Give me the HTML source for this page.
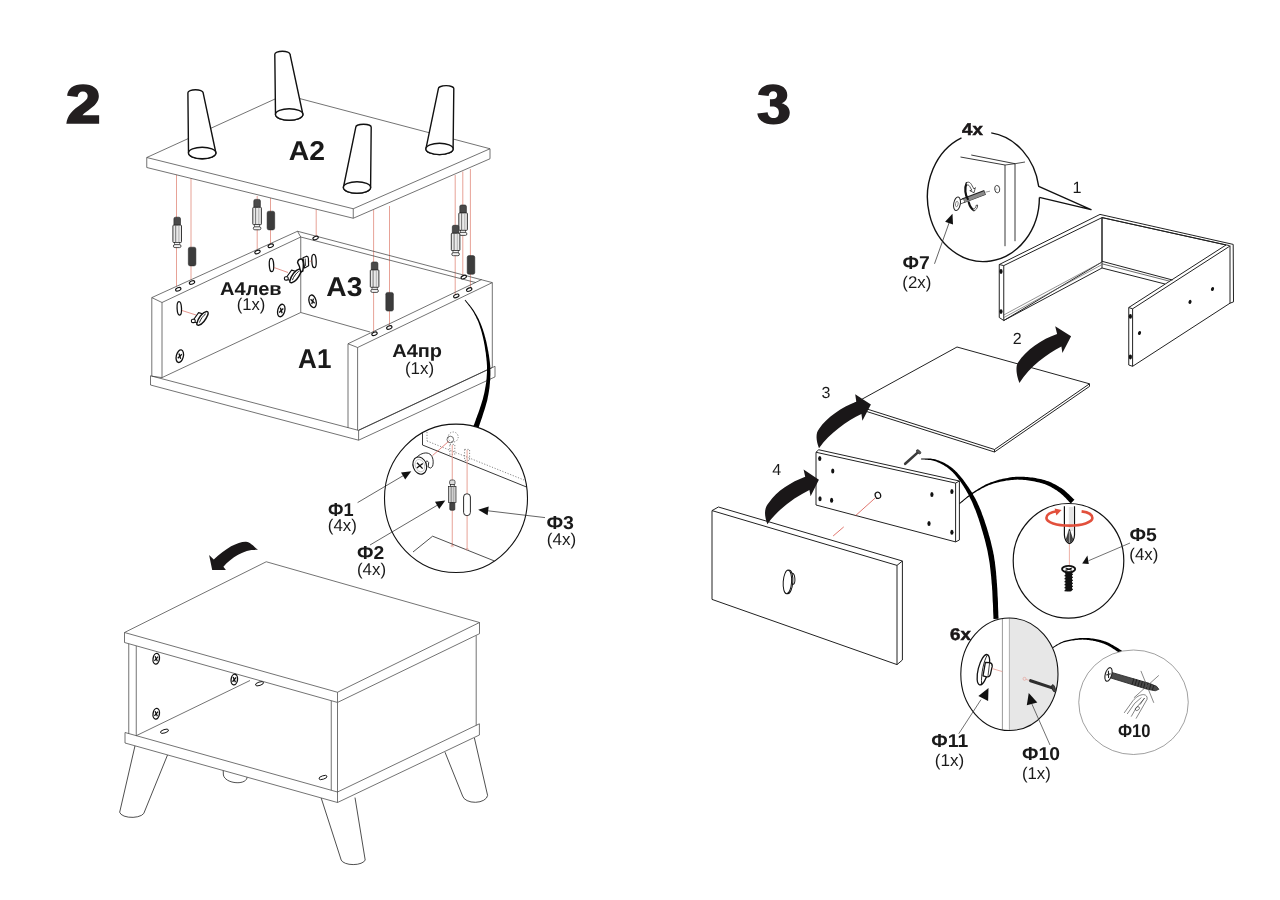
<!DOCTYPE html>
<html><head><meta charset="utf-8"><title>Assembly steps 2-3</title>
<style>
html,body{margin:0;padding:0;background:#fff;}
body{width:1280px;height:900px;overflow:hidden;font-family:"Liberation Sans",sans-serif;}
svg{display:block;font-family:"Liberation Sans",sans-serif;will-change:transform;}
text{text-rendering:geometricPrecision;}
</style></head>
<body>
<svg width="1280" height="900" viewBox="0 0 1280 900">
<rect width="1280" height="900" fill="#fff"/>
<g transform="translate(50,70) scale(0.07776)" fill="#231f20">
<path d="M210 692 L632 692 L632 583 L418 583 C440 555 480 530 530 490 C590 445 628 400 628 335 C628 240 550 183 425 183 C300 183 228 240 220 332 L355 348 C358 300 385 275 422 275 C460 275 485 300 485 335 C485 375 455 400 400 440 C290 515 222 580 210 692 Z"/>
</g>
<g transform="translate(740,70) scale(0.07776)" fill="#231f20">
<path d="M232 318 C245 230 320 183 425 183 C535 183 608 235 608 320 C608 375 580 410 535 428 C600 445 640 490 640 550 C640 645 555 700 430 700 C310 700 235 650 222 560 L355 543 C360 590 390 618 432 618 C475 618 500 590 500 545 C500 495 465 470 410 470 L385 470 L385 375 L410 375 C455 375 478 355 478 320 C478 290 458 272 428 272 C395 272 372 295 368 335 Z"/>
</g>
<line x1="176.5" y1="174" x2="176.5" y2="289" stroke="#e4978b" stroke-width="0.9" />
<line x1="191" y1="178" x2="191" y2="282" stroke="#e4978b" stroke-width="0.9" />
<line x1="257.2" y1="196" x2="257.2" y2="252" stroke="#e4978b" stroke-width="0.9" />
<line x1="270.5" y1="198" x2="270.5" y2="246" stroke="#e4978b" stroke-width="0.9" />
<line x1="316.2" y1="209" x2="316.2" y2="238" stroke="#e4978b" stroke-width="0.9" />
<line x1="373.6" y1="210" x2="373.6" y2="333.5" stroke="#e4978b" stroke-width="0.9" />
<line x1="389.5" y1="206" x2="389.5" y2="327.5" stroke="#e4978b" stroke-width="0.9" />
<line x1="455.2" y1="175" x2="455.2" y2="295.5" stroke="#e4978b" stroke-width="0.9" />
<line x1="462.8" y1="171.5" x2="462.8" y2="277" stroke="#e4978b" stroke-width="0.9" />
<line x1="470.4" y1="169" x2="470.4" y2="289" stroke="#e4978b" stroke-width="0.9" />
<polygon points="146.75,157.5 284.7,94.6 490,148.75 490,158.75 353.25,218.25 146.75,167.5" fill="#fff" stroke="#444" stroke-width="0.75" stroke-linejoin="round" />
<polyline points="146.75,157.5 353.25,208.75 490,148.75" fill="none" stroke="#444" stroke-width="0.75" stroke-linejoin="round" />
<line x1="353.25" y1="208.75" x2="353.25" y2="218.25" stroke="#444" stroke-width="0.75" />
<path d="M275.5,114.5 L274.79999999999995,54.2 A7.6,3 0 0 1 290.0,54.2 L302.9,114.5 A13.7,5.7 0 0 1 275.5,114.5 Z" fill="#fff" stroke="#111" stroke-width="1.4" stroke-linejoin="round"/>
<ellipse cx="289.2" cy="114.5" rx="13.7" ry="5.7" fill="#fff" stroke="#111" stroke-width="1.4" />
<path d="M188.5,153 L187.9,92.7 A7.6,3 0 0 1 203.1,92.7 L215.89999999999998,153 A13.7,5.7 0 0 1 188.5,153 Z" fill="#fff" stroke="#111" stroke-width="1.4" stroke-linejoin="round"/>
<ellipse cx="202.2" cy="153" rx="13.7" ry="5.7" fill="#fff" stroke="#111" stroke-width="1.4" />
<path d="M425.9,148.9 L438.40000000000003,88.6 A7.7,3 0 0 1 453.8,88.6 L453.1,148.9 A13.6,5.7 0 0 1 425.9,148.9 Z" fill="#fff" stroke="#111" stroke-width="1.4" stroke-linejoin="round"/>
<ellipse cx="439.5" cy="148.9" rx="13.6" ry="5.7" fill="#fff" stroke="#111" stroke-width="1.4" />
<path d="M343.4,187.5 L355.8,127.2 A7.7,3 0 0 1 371.2,127.2 L370.6,187.5 A13.6,5.7 0 0 1 343.4,187.5 Z" fill="#fff" stroke="#111" stroke-width="1.4" stroke-linejoin="round"/>
<ellipse cx="357" cy="187.5" rx="13.6" ry="5.7" fill="#fff" stroke="#111" stroke-width="1.4" />
<polygon points="151.8,297.6 297.5,231.25 300.75,237 162,302.5" fill="#fff" stroke="#444" stroke-width="0.75" stroke-linejoin="round" />
<polyline points="151.8,297.6 151.8,376.2 162,377.6 162,302.5" fill="none" stroke="#444" stroke-width="0.75" stroke-linejoin="round" />
<polyline points="162,377.6 300.75,312.5 300.75,237" fill="none" stroke="#444" stroke-width="0.75" stroke-linejoin="round" />
<polyline points="297.5,231.25 492.3,282.6" fill="none" stroke="#444" stroke-width="0.75" stroke-linejoin="round" />
<polyline points="300.75,237 475.9,282.6" fill="none" stroke="#444" stroke-width="0.75" stroke-linejoin="round" />
<polyline points="300.75,312.5 370,332" fill="none" stroke="#444" stroke-width="0.75" stroke-linejoin="round" />
<polyline points="348,343.75 481.7,279.5" fill="none" stroke="#444" stroke-width="0.75" stroke-linejoin="round" />
<polyline points="357.6,347.5 492.3,282.6 492.3,367.3" fill="none" stroke="#444" stroke-width="0.75" stroke-linejoin="round" />
<polyline points="348,343.75 357.6,347.5 357.6,430.2" fill="none" stroke="#444" stroke-width="0.75" stroke-linejoin="round" />
<line x1="348" y1="343.75" x2="348" y2="428" stroke="#444" stroke-width="0.75" />
<polyline points="150.5,375.75 150.5,385 358.6,440.2 495,376.9 495,366.3 358.6,430.4 150.5,375.75" fill="none" stroke="#444" stroke-width="0.75" stroke-linejoin="round" />
<line x1="358.6" y1="430.4" x2="358.6" y2="440.2" stroke="#444" stroke-width="0.75" />
<line x1="358.6" y1="430.2" x2="492" y2="367.6" stroke="#333" stroke-width="0.8" />
<ellipse cx="178.25" cy="289.25" rx="2.8" ry="1.6" fill="#fff" stroke="#111" stroke-width="1.1" transform="rotate(-22 178.25 289.25)" />
<ellipse cx="192" cy="282.5" rx="2.8" ry="1.6" fill="#fff" stroke="#111" stroke-width="1.1" transform="rotate(-22 192 282.5)" />
<ellipse cx="257.5" cy="252" rx="2.8" ry="1.6" fill="#fff" stroke="#111" stroke-width="1.1" transform="rotate(-22 257.5 252)" />
<ellipse cx="270.75" cy="245.75" rx="2.8" ry="1.6" fill="#fff" stroke="#111" stroke-width="1.1" transform="rotate(-22 270.75 245.75)" />
<ellipse cx="315.6" cy="238" rx="2.8" ry="1.6" fill="#fff" stroke="#111" stroke-width="1.1" transform="rotate(-22 315.6 238)" />
<ellipse cx="374.5" cy="333.75" rx="2.8" ry="1.6" fill="#fff" stroke="#111" stroke-width="1.1" transform="rotate(-22 374.5 333.75)" />
<ellipse cx="389.3" cy="327.5" rx="2.8" ry="1.6" fill="#fff" stroke="#111" stroke-width="1.1" transform="rotate(-22 389.3 327.5)" />
<ellipse cx="456.3" cy="295.9" rx="2.8" ry="1.6" fill="#fff" stroke="#111" stroke-width="1.1" transform="rotate(-22 456.3 295.9)" />
<ellipse cx="469.2" cy="289.6" rx="2.8" ry="1.6" fill="#fff" stroke="#111" stroke-width="1.1" transform="rotate(-22 469.2 289.6)" />
<ellipse cx="463.75" cy="277.1" rx="2.8" ry="1.6" fill="#fff" stroke="#111" stroke-width="1.1" transform="rotate(-22 463.75 277.1)" />
<ellipse cx="271.5" cy="265" rx="2.2" ry="6.7" fill="#fff" stroke="#111" stroke-width="1.3" transform="rotate(-3 271.5 265)" />
<ellipse cx="179.3" cy="308.4" rx="2.2" ry="6.7" fill="#fff" stroke="#111" stroke-width="1.3" transform="rotate(-3 179.3 308.4)" />
<ellipse cx="314" cy="261" rx="2.2" ry="6.7" fill="#fff" stroke="#111" stroke-width="1.3" transform="rotate(-3 314 261)" />
<ellipse cx="281.25" cy="310.5" rx="3.5" ry="6.4" fill="#fff" stroke="#111" stroke-width="1.3" transform="rotate(14 281.25 310.5)" />
<g transform="rotate(14 281.25 310.5)" stroke="#111" stroke-width="1.3"><line x1="279.75" y1="308.1" x2="282.75" y2="312.9"/><line x1="282.75" y1="308.1" x2="279.75" y2="312.9"/></g>
<ellipse cx="312.6" cy="301.3" rx="3.5" ry="6.4" fill="#fff" stroke="#111" stroke-width="1.3" transform="rotate(-14 312.6 301.3)" />
<g transform="rotate(-14 312.6 301.3)" stroke="#111" stroke-width="1.3"><line x1="311.1" y1="298.90000000000003" x2="314.1" y2="303.7"/><line x1="314.1" y1="298.90000000000003" x2="311.1" y2="303.7"/></g>
<ellipse cx="179.8" cy="356.2" rx="3.5" ry="6.4" fill="#fff" stroke="#111" stroke-width="1.3" transform="rotate(14 179.8 356.2)" />
<g transform="rotate(14 179.8 356.2)" stroke="#111" stroke-width="1.3"><line x1="178.3" y1="353.8" x2="181.3" y2="358.59999999999997"/><line x1="181.3" y1="353.8" x2="178.3" y2="358.59999999999997"/></g>
<rect x="173.89999999999998" y="217.2" width="6.6" height="8.6" rx="1.6" fill="#4a4a4a" stroke="#222" stroke-width="0.6"/>
<rect x="172.89999999999998" y="225.1" width="8.6" height="17.4" rx="0.8" fill="#e9e9e9" stroke="#222" stroke-width="0.9"/>
<line x1="175.7" y1="225.39999999999998" x2="175.7" y2="242.2" stroke="#444" stroke-width="0.7" />
<line x1="178.89999999999998" y1="225.39999999999998" x2="178.89999999999998" y2="242.2" stroke="#999" stroke-width="0.7" />
<rect x="174.6" y="242.5" width="5.2" height="3" fill="#f4f4f4" stroke="#222" stroke-width="0.6"/>
<rect x="173.39999999999998" y="244.6" width="7.6" height="3" rx="1.5" fill="#f4f4f4" stroke="#222" stroke-width="0.8"/>
<rect x="188.29999999999998" y="247.2" width="7.6" height="18.7" rx="1.8" fill="#3c3c3c" stroke="#222" stroke-width="0.5"/>
<rect x="253.8" y="199.4" width="6.6" height="8.6" rx="1.6" fill="#4a4a4a" stroke="#222" stroke-width="0.6"/>
<rect x="252.8" y="207.3" width="8.6" height="17.4" rx="0.8" fill="#e9e9e9" stroke="#222" stroke-width="0.9"/>
<line x1="255.60000000000002" y1="207.6" x2="255.60000000000002" y2="224.4" stroke="#444" stroke-width="0.7" />
<line x1="258.8" y1="207.6" x2="258.8" y2="224.4" stroke="#999" stroke-width="0.7" />
<rect x="254.50000000000003" y="224.70000000000002" width="5.2" height="3" fill="#f4f4f4" stroke="#222" stroke-width="0.6"/>
<rect x="253.3" y="226.8" width="7.6" height="3" rx="1.5" fill="#f4f4f4" stroke="#222" stroke-width="0.8"/>
<rect x="267.09999999999997" y="211.2" width="7.6" height="18.7" rx="1.8" fill="#3c3c3c" stroke="#222" stroke-width="0.5"/>
<rect x="371.3" y="262" width="6.6" height="8.6" rx="1.6" fill="#4a4a4a" stroke="#222" stroke-width="0.6"/>
<rect x="370.3" y="269.9" width="8.6" height="17.4" rx="0.8" fill="#e9e9e9" stroke="#222" stroke-width="0.9"/>
<line x1="373.1" y1="270.2" x2="373.1" y2="287" stroke="#444" stroke-width="0.7" />
<line x1="376.3" y1="270.2" x2="376.3" y2="287" stroke="#999" stroke-width="0.7" />
<rect x="372.0" y="287.3" width="5.2" height="3" fill="#f4f4f4" stroke="#222" stroke-width="0.6"/>
<rect x="370.8" y="289.4" width="7.6" height="3" rx="1.5" fill="#f4f4f4" stroke="#222" stroke-width="0.8"/>
<rect x="385.8" y="292.4" width="7.6" height="18.7" rx="1.8" fill="#3c3c3c" stroke="#222" stroke-width="0.5"/>
<rect x="459.8" y="205" width="6.6" height="8.6" rx="1.6" fill="#4a4a4a" stroke="#222" stroke-width="0.6"/>
<rect x="458.8" y="212.9" width="8.6" height="17.4" rx="0.8" fill="#e9e9e9" stroke="#222" stroke-width="0.9"/>
<line x1="461.6" y1="213.2" x2="461.6" y2="230" stroke="#444" stroke-width="0.7" />
<line x1="464.8" y1="213.2" x2="464.8" y2="230" stroke="#999" stroke-width="0.7" />
<rect x="460.5" y="230.3" width="5.2" height="3" fill="#f4f4f4" stroke="#222" stroke-width="0.6"/>
<rect x="459.3" y="232.4" width="7.6" height="3" rx="1.5" fill="#f4f4f4" stroke="#222" stroke-width="0.8"/>
<rect x="452.3" y="225.3" width="6.6" height="8.6" rx="1.6" fill="#4a4a4a" stroke="#222" stroke-width="0.6"/>
<rect x="451.3" y="233.20000000000002" width="8.6" height="17.4" rx="0.8" fill="#e9e9e9" stroke="#222" stroke-width="0.9"/>
<line x1="454.1" y1="233.5" x2="454.1" y2="250.3" stroke="#444" stroke-width="0.7" />
<line x1="457.3" y1="233.5" x2="457.3" y2="250.3" stroke="#999" stroke-width="0.7" />
<rect x="453.0" y="250.60000000000002" width="5.2" height="3" fill="#f4f4f4" stroke="#222" stroke-width="0.6"/>
<rect x="451.8" y="252.70000000000002" width="7.6" height="3" rx="1.5" fill="#f4f4f4" stroke="#222" stroke-width="0.8"/>
<rect x="467.2" y="255.6" width="7.6" height="18.7" rx="1.8" fill="#3c3c3c" stroke="#222" stroke-width="0.5"/>
<line x1="182" y1="310.5" x2="196" y2="315" stroke="#dd7a6e" stroke-width="0.8" />
<g transform="translate(0,0)" stroke="#111" stroke-width="1.1" fill="#fff" stroke-linejoin="round"><path d="M192.4,321.2 L198.6,312.6 L203.2,314 L197.4,323 Z"/><rect x="191.4" y="319.2" width="3.8" height="3.4" rx="1.4"/><path d="M196.8,323.6 C198,318 202.4,312.4 206.6,311.4 C208.6,311.4 208.4,313.6 207.6,315.4 C205.6,320 202.4,324 199,325.2 C197.4,325.4 196.6,324.8 196.8,323.6 Z" stroke-width="1.4"/><path d="M199.4,322.6 C200.6,319 203.4,315.4 205.8,313.8" fill="none" stroke-width="0.9"/></g>
<line x1="274" y1="267.5" x2="288" y2="272.5" stroke="#dd7a6e" stroke-width="0.8" />
<g transform="translate(93,-42.5)" stroke="#111" stroke-width="1.1" fill="#fff" stroke-linejoin="round"><path d="M192.4,321.2 L198.6,312.6 L203.2,314 L197.4,323 Z"/><rect x="191.4" y="319.2" width="3.8" height="3.4" rx="1.4"/><path d="M196.8,323.6 C198,318 202.4,312.4 206.6,311.4 C208.6,311.4 208.4,313.6 207.6,315.4 C205.6,320 202.4,324 199,325.2 C197.4,325.4 196.6,324.8 196.8,323.6 Z" stroke-width="1.4"/><path d="M199.4,322.6 C200.6,319 203.4,315.4 205.8,313.8" fill="none" stroke-width="0.9"/></g>
<g stroke="#111" stroke-width="1.2" fill="#fff" stroke-linejoin="round"><path d="M297.6,262.6 C297.8,260 299.8,258.6 301.8,259 C303.6,260 303.8,266 302.8,271 L300.6,272 C300.2,268 299,264.6 297.6,262.6 Z" stroke-width="1.5"/><path d="M303,257.8 L306.6,256.2 C307.8,256.4 308.4,257.4 308.4,258.6 L308.6,265.8 L304.6,268 Z"/><path d="M305.2,258.6 L305.6,266" fill="none" stroke-width="0.8"/></g>
<line x1="309.5" y1="261.3" x2="311.8" y2="261" stroke="#dd7a6e" stroke-width="0.7" />
<text x="307.0" y="160" font-size="27.2" font-weight="bold" text-anchor="middle" fill="#1a1a1a"  textLength="36.31" lengthAdjust="spacingAndGlyphs">A2</text>
<text x="344.375" y="295.5" font-size="27.2" font-weight="bold" text-anchor="middle" fill="#1a1a1a"  textLength="36.06" lengthAdjust="spacingAndGlyphs">A3</text>
<text x="314.75" y="367.75" font-size="27.2" font-weight="bold" text-anchor="middle" fill="#1a1a1a"  textLength="33.31" lengthAdjust="spacingAndGlyphs">A1</text>
<text x="250.89999999999998" y="294.8" font-size="18.4" font-weight="bold" text-anchor="middle" fill="#1a1a1a"  textLength="61.56" lengthAdjust="spacingAndGlyphs">А4лев</text>
<text x="251.1" y="309.8" font-size="17" font-weight="normal" text-anchor="middle" fill="#1a1a1a"  textLength="28.64" lengthAdjust="spacingAndGlyphs">(1x)</text>
<text x="417.125" y="356.6" font-size="18.4" font-weight="bold" text-anchor="middle" fill="#1a1a1a"  textLength="49.81" lengthAdjust="spacingAndGlyphs">А4пр</text>
<text x="419.5" y="374.1" font-size="17" font-weight="normal" text-anchor="middle" fill="#1a1a1a"  textLength="29.24" lengthAdjust="spacingAndGlyphs">(1x)</text>
<polygon points="464.7,300.2 465.0,300.7 465.4,301.2 465.8,301.7 466.3,302.4 466.9,303.1 467.4,303.8 468.0,304.6 468.7,305.4 469.3,306.2 470.0,307.1 470.6,307.9 471.2,308.8 471.8,309.7 472.4,310.6 473.0,311.5 473.5,312.3 474.0,313.2 474.4,314.0 474.9,314.9 475.3,315.7 475.8,316.6 476.2,317.5 476.6,318.4 477.1,319.3 477.5,320.2 477.9,321.1 478.3,322.1 478.7,323.1 479.0,324.1 479.4,325.1 479.8,326.2 480.1,327.3 480.5,328.4 480.9,329.6 481.2,330.8 481.6,332.0 481.9,333.3 482.2,334.6 482.6,335.9 482.9,337.2 483.2,338.5 483.5,339.9 483.8,341.3 484.0,342.6 484.3,344.0 484.6,345.4 484.8,346.8 485.0,348.2 485.2,349.6 485.4,351.1 485.7,352.5 485.9,354.0 486.0,355.4 486.2,356.9 486.4,358.4 486.5,359.9 486.7,361.4 486.8,362.9 486.9,364.4 487.0,365.9 487.0,367.4 487.0,368.9 487.0,370.4 487.0,372.0 486.9,373.5 486.8,375.1 486.7,376.6 486.6,378.2 486.4,379.7 486.3,381.3 486.1,382.9 485.8,384.4 485.6,386.0 485.3,387.6 485.0,389.2 484.7,390.9 484.4,392.5 484.0,394.2 483.6,395.8 483.2,397.5 482.8,399.2 482.2,401.1 481.6,403.0 481.0,405.0 480.3,407.1 479.6,409.2 478.9,411.3 478.2,413.3 477.4,415.3 476.7,417.3 476.0,419.1 475.4,420.9 474.8,422.4 474.3,423.9 473.8,425.1 473.4,426.1 478.6,427.9 478.9,426.8 479.3,425.6 479.7,424.2 480.3,422.6 480.9,420.8 481.5,419.0 482.2,417.0 482.8,414.9 483.5,412.8 484.2,410.7 484.9,408.5 485.5,406.4 486.1,404.3 486.7,402.3 487.2,400.4 487.6,398.5 487.9,396.8 488.3,395.0 488.6,393.3 488.9,391.6 489.1,389.9 489.4,388.3 489.6,386.6 489.7,384.9 489.9,383.3 490.0,381.7 490.2,380.0 490.3,378.4 490.3,376.8 490.4,375.2 490.4,373.6 490.4,372.0 490.4,370.4 490.3,368.8 490.3,367.3 490.2,365.7 490.0,364.1 489.9,362.6 489.7,361.0 489.5,359.5 489.3,358.0 489.1,356.5 488.9,355.0 488.6,353.5 488.4,352.1 488.1,350.6 487.8,349.2 487.6,347.8 487.3,346.4 487.0,345.0 486.7,343.5 486.4,342.1 486.1,340.8 485.7,339.4 485.4,338.0 485.0,336.7 484.6,335.3 484.3,334.0 483.9,332.7 483.5,331.5 483.1,330.2 482.7,329.0 482.3,327.9 481.9,326.7 481.4,325.6 481.0,324.5 480.6,323.5 480.2,322.4 479.7,321.5 479.3,320.5 478.9,319.5 478.4,318.6 477.9,317.7 477.5,316.8 477.0,315.9 476.5,315.1 476.0,314.2 475.5,313.4 475.0,312.5 474.5,311.7 474.0,310.8 473.4,310.0 472.8,309.1 472.1,308.2 471.5,307.3 470.8,306.4 470.1,305.6 469.5,304.8 468.8,304.0 468.2,303.2 467.6,302.5 467.0,301.8 466.5,301.2 466.0,300.6 465.6,300.2 465.3,299.8" fill="#000"/>
<clipPath id="c1"><ellipse cx="456" cy="498.3" rx="71.2" ry="73.8"/></clipPath>
<ellipse cx="456" cy="498.3" rx="71.5" ry="74.2" fill="#fff" stroke="#111" stroke-width="1.1" />
<g clip-path="url(#c1)">
<polyline points="422.5,433 422.5,445 526,486.8" fill="none" stroke="#222" stroke-width="0.9" stroke-linejoin="round" />
<line x1="427" y1="432" x2="427" y2="441" stroke="#555" stroke-width="0.7" stroke-dasharray="1.2 1.6"/>
<line x1="427" y1="441" x2="524" y2="480" stroke="#555" stroke-width="0.7" stroke-dasharray="1.2 1.6"/>
<ellipse cx="453.2" cy="437" rx="5" ry="5" fill="none" stroke="#555" stroke-width="0.7" stroke-dasharray="1.2 1.6"/>
<ellipse cx="450.3" cy="439.5" rx="3.3" ry="3.3" fill="none" stroke="#333" stroke-width="0.7" />
<rect x="449.8" y="444.4" width="5" height="10" fill="none" stroke="#555" stroke-width="0.7" stroke-dasharray="1.2 1.6"/>
<rect x="464.6" y="449.4" width="5" height="11" fill="none" stroke="#555" stroke-width="0.7" stroke-dasharray="1.2 1.6"/>
<line x1="432.5" y1="455.6" x2="448.7" y2="441.3" stroke="#d9544a" stroke-width="0.7" />
<line x1="452.25" y1="445" x2="452.25" y2="546" stroke="#e4978b" stroke-width="0.9" />
<line x1="467.1" y1="450" x2="467.1" y2="549" stroke="#e4978b" stroke-width="0.9" />
<polyline points="413,552 432.6,536.2 497,562" fill="none" stroke="#222" stroke-width="0.8" stroke-linejoin="round" />
<ellipse cx="452.25" cy="546" rx="1.5" ry="0.8" fill="none" stroke="#e4978b" stroke-width="0.5" />
<ellipse cx="467.1" cy="549.3" rx="1.5" ry="0.8" fill="none" stroke="#e4978b" stroke-width="0.5" />
</g>
<g stroke="#111" stroke-width="0.9" fill="#fff" stroke-linejoin="round"><path d="M417.5,456.5 C421,453.4 426.4,451.6 430,454.2 C433.2,456.6 433.8,462 432.6,466.2 L430.6,468.2 L428.1,466.9 L428.7,462.6 C428,461 426.8,460.8 425.8,461.6 L426.4,468.6 L423.4,473.6 Z"/><ellipse cx="419.75" cy="465.6" rx="6.6" ry="8.8" transform="rotate(-20 419.75 465.6)" stroke-width="1.1"/><ellipse cx="419.9" cy="465.6" rx="4.6" ry="6.4" transform="rotate(-20 419.9 465.6)" stroke="#999" stroke-width="0.5" fill="none"/><path d="M417,462.8 L422.6,468.6 M422.8,463.4 L416.8,468" fill="none" stroke-width="1.3"/></g>
<g stroke="#222" stroke-width="0.7"><rect x="449.6" y="480" width="5.4" height="5" rx="1.6" fill="#ddd"/><rect x="450.4" y="484.4" width="3.8" height="2.4" fill="#eee"/><rect x="448.6" y="486.6" width="7.4" height="16" fill="#d0d0d0"/><line x1="451.2" y1="486.6" x2="451.2" y2="502.6" stroke="#666"/><line x1="453.6" y1="486.6" x2="453.6" y2="502.6" stroke="#999"/><rect x="449.8" y="502.6" width="5" height="7.6" rx="1" fill="#444"/></g>
<rect x="463.6" y="493.8" width="6.8" height="21.8" rx="3.2" fill="#fff" stroke="#111" stroke-width="0.9"/>
<line x1="357.6" y1="502.6" x2="405" y2="474.6" stroke="#222" stroke-width="0.7" />
<polygon points="411.3,471.2 405.2,479.6 401.0,472.4" fill="#111"/>
<line x1="370" y1="545" x2="438" y2="504.8" stroke="#222" stroke-width="0.7" />
<polygon points="445.3,500.6 439.2,509.0 435.0,501.8" fill="#111"/>
<line x1="545" y1="517.6" x2="488" y2="510.8" stroke="#222" stroke-width="0.7" />
<polygon points="478.2,509.7 488.7,506.5 487.6,515.3" fill="#111"/>
<text x="340.8" y="516.3" font-size="18.6" font-weight="bold" text-anchor="middle" fill="#1a1a1a"  textLength="25.58" lengthAdjust="spacingAndGlyphs">Ф1</text>
<text x="342.3" y="530.6" font-size="17" font-weight="normal" text-anchor="middle" fill="#1a1a1a"  textLength="29.04" lengthAdjust="spacingAndGlyphs">(4x)</text>
<text x="370.65" y="559.3" font-size="18.6" font-weight="bold" text-anchor="middle" fill="#1a1a1a"  textLength="27.28" lengthAdjust="spacingAndGlyphs">Ф2</text>
<text x="371.5" y="575.2" font-size="17" font-weight="normal" text-anchor="middle" fill="#1a1a1a"  textLength="29.04" lengthAdjust="spacingAndGlyphs">(4x)</text>
<text x="560.2" y="528.5" font-size="18.6" font-weight="bold" text-anchor="middle" fill="#1a1a1a"  textLength="27.58" lengthAdjust="spacingAndGlyphs">Ф3</text>
<text x="561.55" y="544.5" font-size="17" font-weight="normal" text-anchor="middle" fill="#1a1a1a"  textLength="29.34" lengthAdjust="spacingAndGlyphs">(4x)</text>
<path d="M135,745.8 L120.2,810 A12.2,5.6 0 0 0 143.8,813.4 L167.5,755" fill="#fff" stroke="#222" stroke-width="0.8" />
<path d="M321.2,798 L341.2,860 A12.2,5.6 0 0 0 365.2,860 L355,797.6" fill="#fff" stroke="#222" stroke-width="0.8" />
<path d="M445,752.2 L462.6,796 A12.6,7.5 0 0 0 487.6,795.4 L474.4,738" fill="#fff" stroke="#222" stroke-width="0.8" />
<path d="M223.2,770 L223.4,775 C225,783.6 245,785.6 247,778 L247.2,776.6" fill="#fff" stroke="#222" stroke-width="0.8" />
<polygon points="125,732.5 125,743 337.5,802.5 479.4,735 479.4,723.8 337.5,792" fill="#fff" stroke="#444" stroke-width="0.75" stroke-linejoin="round" />
<line x1="337.5" y1="792" x2="337.5" y2="802.5" stroke="#444" stroke-width="0.75" />
<polyline points="128.75,643.5 128.75,733.6" fill="none" stroke="#444" stroke-width="0.75" stroke-linejoin="round" />
<polyline points="136.25,645.8 136.25,735.7" fill="none" stroke="#444" stroke-width="0.75" stroke-linejoin="round" />
<polyline points="136.25,735.7 250,680.5" fill="none" stroke="#444" stroke-width="0.75" stroke-linejoin="round" />
<line x1="331.25" y1="700.6" x2="331.25" y2="790.2" stroke="#444" stroke-width="0.75" />
<line x1="337.5" y1="702.5" x2="337.5" y2="792" stroke="#444" stroke-width="0.75" />
<line x1="476.2" y1="635.4" x2="476.2" y2="725.4" stroke="#444" stroke-width="0.75" />
<polygon points="124.5,632.5 266.25,561.75 479.5,622.5 479.5,633.7 337.5,702.45 124.5,642.5" fill="#fff" stroke="#444" stroke-width="0.75" stroke-linejoin="round" />
<polyline points="124.5,632.5 337.5,692.25 479.5,622.5" fill="none" stroke="#444" stroke-width="0.75" stroke-linejoin="round" />
<line x1="337.5" y1="692.25" x2="337.5" y2="702.45" stroke="#444" stroke-width="0.75" />
<ellipse cx="164.5" cy="731.25" rx="4.2" ry="1.7" fill="#fff" stroke="#111" stroke-width="0.9" transform="rotate(-18 164.5 731.25)" />
<ellipse cx="259.5" cy="683.75" rx="4.2" ry="1.7" fill="#fff" stroke="#111" stroke-width="0.9" transform="rotate(-18 259.5 683.75)" />
<ellipse cx="323" cy="777.5" rx="4.2" ry="1.7" fill="#fff" stroke="#111" stroke-width="0.9" transform="rotate(-18 323 777.5)" />
<ellipse cx="156.25" cy="658.75" rx="3.2" ry="5.4" fill="#fff" stroke="#111" stroke-width="1.3" transform="rotate(8 156.25 658.75)" />
<g transform="rotate(8 156.25 658.75)" stroke="#111" stroke-width="1.3"><line x1="154.75" y1="656.35" x2="157.75" y2="661.15"/><line x1="157.75" y1="656.35" x2="154.75" y2="661.15"/></g>
<ellipse cx="234.3" cy="679.6" rx="3.2" ry="5.4" fill="#fff" stroke="#111" stroke-width="1.3" transform="rotate(8 234.3 679.6)" />
<g transform="rotate(8 234.3 679.6)" stroke="#111" stroke-width="1.3"><line x1="232.8" y1="677.2" x2="235.8" y2="682.0"/><line x1="235.8" y1="677.2" x2="232.8" y2="682.0"/></g>
<ellipse cx="156.25" cy="713.75" rx="3.2" ry="5.4" fill="#fff" stroke="#111" stroke-width="1.3" transform="rotate(8 156.25 713.75)" />
<g transform="rotate(8 156.25 713.75)" stroke="#111" stroke-width="1.3"><line x1="154.75" y1="711.35" x2="157.75" y2="716.15"/><line x1="157.75" y1="711.35" x2="154.75" y2="716.15"/></g>
<path d="M258.1,549.9 C254,547 251,542.5 246,541.8 C238,541.5 226,548 213.75,559.4 L209.1,555 L212.2,570 L225.9,570 L223.4,566.75 C232,557 245,549 258.1,549.9 Z" fill="#1a1718"/>
<polygon points="852.5,404.4 957,347 1089.5,383.8 1089.5,386.4 994.5,452 852.5,407" fill="#fff" stroke="#222" stroke-width="1.0" stroke-linejoin="round" />
<polyline points="852.5,404.4 994.5,449.5 1089.5,383.8" fill="none" stroke="#222" stroke-width="1.0" stroke-linejoin="round" />
<line x1="994.5" y1="449.5" x2="994.5" y2="452" stroke="#222" stroke-width="1.0" />
<polygon points="999.25,264.5 1100,214.4 1233.2,244.4 1233.5,301.9 1230,303.2 1132.6,366.3 1128.75,365 1128.75,307.5 1226,245 1102,217.6 1102,262 1003.75,320.5 999.25,317.5" fill="#fff" stroke="#222" stroke-width="1.0" stroke-linejoin="round" />
<polyline points="999.25,264.5 1003.75,265.6 1003.75,320.5" fill="none" stroke="#222" stroke-width="1.0" stroke-linejoin="round" />
<polyline points="1003.75,265.6 1102,217.6" fill="none" stroke="#222" stroke-width="1.0" stroke-linejoin="round" />
<line x1="1102" y1="217.6" x2="1102" y2="268" stroke="#222" stroke-width="1.0" />
<line x1="1003.75" y1="315" x2="1102" y2="262" stroke="#666" stroke-width="0.7" />
<line x1="1003.75" y1="317.6" x2="1102" y2="264.6" stroke="#666" stroke-width="0.7" />
<line x1="1003.75" y1="320.5" x2="1102" y2="268" stroke="#222" stroke-width="1.0" />
<line x1="1102" y1="217.6" x2="1229.4" y2="245.6" stroke="#222" stroke-width="1.0" />
<line x1="1102" y1="261.3" x2="1172.5" y2="280" stroke="#222" stroke-width="1.0" />
<line x1="1102" y1="263.8" x2="1170" y2="281.3" stroke="#444" stroke-width="0.8" />
<line x1="1102" y1="268" x2="1165" y2="284" stroke="#222" stroke-width="1.0" />
<polyline points="1128.75,307.5 1132.6,308.8 1132.6,366.3" fill="none" stroke="#222" stroke-width="1.0" stroke-linejoin="round" />
<line x1="1132.6" y1="308.8" x2="1230" y2="246" stroke="#222" stroke-width="1.0" />
<line x1="1230" y1="245.5" x2="1230" y2="303.2" stroke="#222" stroke-width="1.0" />
<ellipse cx="1139.5" cy="333" rx="1.5" ry="2.1" fill="#111" stroke="none" stroke-width="0" transform="rotate(20 1139.5 333)" />
<ellipse cx="1190" cy="301.9" rx="1.5" ry="2.1" fill="#111" stroke="none" stroke-width="0" transform="rotate(20 1190 301.9)" />
<ellipse cx="1212.5" cy="289" rx="1.5" ry="2.1" fill="#111" stroke="none" stroke-width="0" transform="rotate(20 1212.5 289)" />
<ellipse cx="1001" cy="271.5" rx="1.6" ry="2.4" fill="#111" stroke="none" stroke-width="0" />
<ellipse cx="1001" cy="311.6" rx="1.6" ry="2.4" fill="#111" stroke="none" stroke-width="0" />
<ellipse cx="1130.4" cy="316.4" rx="1.6" ry="2.4" fill="#111" stroke="none" stroke-width="0" />
<ellipse cx="1130.4" cy="357" rx="1.6" ry="2.4" fill="#111" stroke="none" stroke-width="0" />
<polygon points="816,452.25 818.75,449.75 959.4,481 959.4,540 955.6,541.9 816,505" fill="#fff" stroke="#222" stroke-width="1.0" stroke-linejoin="round" />
<polyline points="816,452.25 955.6,483.1 955.6,541.9" fill="none" stroke="#222" stroke-width="1.0" stroke-linejoin="round" />
<line x1="955.6" y1="483.1" x2="959.4" y2="481" stroke="#222" stroke-width="1.0" />
<ellipse cx="819.75" cy="458.4" rx="1.6" ry="2.5" fill="#111" stroke="none" stroke-width="0" />
<ellipse cx="832.75" cy="470.9" rx="1.6" ry="2.5" fill="#111" stroke="none" stroke-width="0" />
<ellipse cx="820" cy="498.75" rx="1.6" ry="2.5" fill="#111" stroke="none" stroke-width="0" />
<ellipse cx="831.6" cy="500.25" rx="1.6" ry="2.5" fill="#111" stroke="none" stroke-width="0" />
<ellipse cx="931.9" cy="494.6" rx="1.6" ry="2.5" fill="#111" stroke="none" stroke-width="0" />
<ellipse cx="951.9" cy="491.5" rx="1.6" ry="2.5" fill="#111" stroke="none" stroke-width="0" />
<ellipse cx="929" cy="523.4" rx="1.6" ry="2.5" fill="#111" stroke="none" stroke-width="0" />
<ellipse cx="951.9" cy="532.25" rx="1.6" ry="2.5" fill="#111" stroke="none" stroke-width="0" />
<ellipse cx="877.9" cy="495.25" rx="2.7" ry="3.2" fill="#fff" stroke="#111" stroke-width="1.2" transform="rotate(-20 877.9 495.25)" />
<line x1="875.2" y1="498" x2="855.6" y2="515.6" stroke="#d9544a" stroke-width="0.8" />
<line x1="843.75" y1="526.9" x2="833.1" y2="536" stroke="#d9544a" stroke-width="0.8" />
<line x1="905.2" y1="463.8" x2="917.6" y2="452.6" stroke="#3a3a3a" stroke-width="2.6" stroke-linecap="round"/>
<ellipse cx="918.6" cy="451.8" rx="1.4" ry="2.6" fill="#555" stroke="#333" stroke-width="0.8" transform="rotate(-48 918.6 451.8)" />
<polygon points="712,510.6 718.4,507 902.4,561 902.4,660 897,664.6 712,599.4" fill="#fff" stroke="#222" stroke-width="1.0" stroke-linejoin="round" />
<polyline points="712,510.6 897,565.4 897,664.6" fill="none" stroke="#222" stroke-width="1.0" stroke-linejoin="round" />
<line x1="897" y1="565.4" x2="902.4" y2="561" stroke="#222" stroke-width="1.0" />
<g stroke="#111" stroke-width="1" fill="#fff"><ellipse cx="792.3" cy="578.9" rx="2.6" ry="5.6" transform="rotate(-4 792.3 578.9)"/><ellipse cx="788.6" cy="581.9" rx="4.2" ry="11.8" transform="rotate(4 788.6 581.9)"/><ellipse cx="787.4" cy="581.9" rx="4.2" ry="11.8" transform="rotate(4 787.4 581.9)"/></g>
<polygon points="921.1,459.4 921.6,459.5 922.2,459.5 922.9,459.6 923.7,459.6 924.5,459.6 925.4,459.7 926.4,459.8 927.3,459.8 928.4,459.9 929.4,460.0 930.4,460.1 931.5,460.3 932.5,460.5 933.5,460.7 934.4,461.0 935.3,461.3 936.2,461.6 937.2,462.0 938.1,462.4 939.1,462.8 940.0,463.3 941.0,463.7 941.9,464.2 942.9,464.8 943.9,465.3 944.8,465.9 945.7,466.5 946.7,467.1 947.6,467.8 948.5,468.5 949.4,469.2 950.2,469.9 951.1,470.7 951.9,471.5 952.8,472.3 953.6,473.2 954.4,474.1 955.2,475.0 956.0,476.0 956.8,476.9 957.6,477.9 958.4,478.9 959.2,480.0 960.0,481.0 960.7,482.1 961.5,483.2 962.2,484.3 963.0,485.4 963.7,486.5 964.4,487.7 965.1,488.8 965.8,490.0 966.5,491.2 967.2,492.4 967.8,493.6 968.5,494.8 969.1,496.1 969.8,497.4 970.4,498.7 971.1,500.0 971.7,501.3 972.3,502.6 972.9,504.0 973.5,505.4 974.0,506.7 974.6,508.2 975.2,509.6 975.8,511.0 976.3,512.5 976.9,514.0 977.4,515.5 977.9,517.1 978.5,518.6 979.0,520.2 979.5,521.7 980.0,523.3 980.5,524.9 981.0,526.5 981.4,528.1 981.9,529.7 982.4,531.3 982.9,532.9 983.3,534.5 983.8,536.1 984.2,537.7 984.7,539.3 985.1,541.0 985.5,542.6 985.9,544.3 986.3,546.0 986.7,547.6 987.1,549.3 987.5,551.0 987.8,552.7 988.1,554.4 988.4,556.1 988.7,557.8 989.0,559.5 989.3,561.2 989.6,562.9 989.8,564.6 990.0,566.3 990.2,568.1 990.4,569.8 990.6,571.6 990.8,573.4 991.0,575.2 991.2,577.0 991.3,578.8 991.5,580.7 991.6,582.6 991.8,584.6 992.0,586.6 992.1,588.8 992.3,591.1 992.4,593.5 992.5,596.0 992.6,598.5 992.7,601.0 992.9,603.5 993.0,605.9 993.1,608.3 993.1,610.5 993.2,612.6 993.3,614.5 993.4,616.2 993.4,617.7 993.5,618.9 998.5,618.7 998.5,617.5 998.4,616.0 998.3,614.3 998.3,612.4 998.2,610.3 998.1,608.1 998.0,605.7 998.0,603.3 997.9,600.8 997.8,598.3 997.6,595.8 997.5,593.3 997.4,590.9 997.3,588.5 997.1,586.3 997.0,584.2 996.8,582.2 996.7,580.3 996.5,578.4 996.4,576.5 996.2,574.7 996.1,572.8 995.9,571.0 995.7,569.2 995.5,567.4 995.3,565.7 995.1,563.9 994.9,562.1 994.6,560.4 994.3,558.6 994.1,556.9 993.8,555.1 993.4,553.4 993.1,551.6 992.7,549.9 992.3,548.1 991.9,546.4 991.5,544.7 991.1,543.0 990.7,541.3 990.2,539.6 989.8,538.0 989.3,536.3 988.8,534.7 988.4,533.0 987.9,531.4 987.4,529.8 986.9,528.1 986.4,526.5 985.9,524.9 985.3,523.3 984.8,521.7 984.3,520.1 983.7,518.6 983.2,517.0 982.6,515.4 982.0,513.9 981.5,512.3 980.9,510.8 980.3,509.3 979.6,507.8 979.0,506.3 978.4,504.9 977.7,503.4 977.1,502.0 976.4,500.7 975.7,499.3 975.0,498.0 974.3,496.7 973.5,495.4 972.8,494.1 972.1,492.8 971.3,491.6 970.6,490.4 969.8,489.2 969.0,488.0 968.2,486.8 967.4,485.7 966.6,484.5 965.8,483.4 965.0,482.3 964.2,481.2 963.4,480.1 962.6,479.1 961.8,478.0 960.9,477.0 960.1,475.9 959.2,474.9 958.3,474.0 957.5,473.0 956.6,472.1 955.7,471.2 954.8,470.3 953.8,469.4 952.9,468.6 952.0,467.9 951.0,467.1 950.0,466.4 949.0,465.7 948.0,465.1 947.0,464.5 946.0,463.9 945.0,463.3 944.0,462.8 942.9,462.3 941.9,461.8 940.9,461.4 939.9,460.9 938.8,460.5 937.8,460.2 936.9,459.9 935.9,459.5 934.9,459.3 933.8,459.0 932.8,458.9 931.7,458.7 930.6,458.6 929.5,458.5 928.5,458.5 927.4,458.4 926.4,458.4 925.4,458.4 924.5,458.4 923.7,458.4 922.9,458.4 922.2,458.4 921.6,458.4 921.1,458.4" fill="#000"/>
<polygon points="959.9,503.9 960.4,503.5 961.0,503.0 961.6,502.5 962.4,501.9 963.2,501.2 964.0,500.5 964.9,499.8 965.9,499.0 966.8,498.3 967.8,497.5 968.9,496.7 969.9,495.9 971.0,495.1 972.0,494.4 973.1,493.7 974.1,493.0 975.1,492.4 976.2,491.8 977.3,491.1 978.4,490.5 979.5,489.9 980.6,489.2 981.7,488.6 982.8,488.0 984.0,487.4 985.2,486.8 986.4,486.2 987.6,485.7 988.9,485.1 990.2,484.7 991.5,484.2 992.8,483.7 994.2,483.3 995.6,482.9 997.1,482.6 998.6,482.2 1000.1,481.8 1001.7,481.5 1003.2,481.2 1004.8,480.9 1006.4,480.6 1008.0,480.4 1009.7,480.2 1011.3,480.0 1012.9,479.9 1014.4,479.8 1016.0,479.7 1017.5,479.6 1019.1,479.7 1020.6,479.7 1022.2,479.8 1023.8,479.9 1025.4,480.1 1027.0,480.2 1028.6,480.5 1030.2,480.7 1031.8,481.0 1033.4,481.2 1034.9,481.5 1036.4,481.9 1037.9,482.2 1039.3,482.6 1040.7,482.9 1042.0,483.3 1043.2,483.7 1044.5,484.1 1045.6,484.6 1046.8,485.0 1047.9,485.5 1049.0,486.0 1050.0,486.6 1051.1,487.1 1052.1,487.7 1053.1,488.2 1054.0,488.8 1055.0,489.4 1056.0,490.0 1056.9,490.6 1057.8,491.3 1058.7,491.9 1059.6,492.5 1060.5,493.2 1061.3,494.0 1062.2,494.7 1063.1,495.6 1064.0,496.4 1064.8,497.2 1065.7,498.1 1066.5,498.9 1067.2,499.7 1068.0,500.5 1068.6,501.2 1069.3,501.9 1069.8,502.5 1070.4,503.0 1070.8,503.5 1074.4,499.7 1074.0,499.3 1073.5,498.9 1072.9,498.3 1072.3,497.7 1071.6,497.0 1070.8,496.2 1070.0,495.4 1069.1,494.6 1068.2,493.7 1067.3,492.9 1066.3,492.0 1065.4,491.2 1064.4,490.3 1063.3,489.5 1062.3,488.8 1061.3,488.1 1060.3,487.5 1059.3,486.9 1058.3,486.3 1057.3,485.7 1056.2,485.1 1055.2,484.5 1054.1,483.9 1053.0,483.4 1051.8,482.8 1050.7,482.3 1049.5,481.8 1048.3,481.3 1047.0,480.9 1045.7,480.4 1044.4,480.0 1043.0,479.7 1041.6,479.3 1040.2,479.0 1038.7,478.7 1037.1,478.4 1035.6,478.1 1034.0,477.8 1032.3,477.6 1030.7,477.4 1029.0,477.2 1027.4,477.0 1025.7,476.9 1024.0,476.8 1022.4,476.7 1020.7,476.7 1019.1,476.7 1017.5,476.8 1015.9,476.8 1014.2,477.0 1012.6,477.1 1010.9,477.3 1009.3,477.6 1007.7,477.9 1006.0,478.2 1004.4,478.5 1002.8,478.8 1001.2,479.2 999.6,479.6 998.0,480.0 996.5,480.5 995.0,480.9 993.6,481.4 992.2,481.9 990.8,482.3 989.5,482.9 988.2,483.4 986.9,484.0 985.6,484.6 984.4,485.2 983.2,485.9 982.1,486.5 980.9,487.2 979.8,487.9 978.7,488.6 977.6,489.2 976.5,489.9 975.5,490.6 974.4,491.3 973.4,492.0 972.4,492.6 971.3,493.4 970.3,494.1 969.2,494.9 968.2,495.7 967.1,496.6 966.1,497.4 965.2,498.2 964.2,499.0 963.3,499.7 962.5,500.4 961.7,501.1 961.0,501.7 960.4,502.3 959.8,502.8 959.3,503.1" fill="#000"/>
<polygon points="1053.2,647.9 1053.6,647.7 1054.1,647.4 1054.6,647.1 1055.2,646.7 1055.9,646.3 1056.5,645.9 1057.3,645.5 1058.0,645.1 1058.8,644.6 1059.6,644.2 1060.5,643.7 1061.4,643.3 1062.3,642.9 1063.2,642.6 1064.2,642.3 1065.2,642.0 1066.2,641.7 1067.3,641.5 1068.4,641.2 1069.6,641.0 1070.8,640.8 1072.0,640.6 1073.3,640.4 1074.6,640.2 1075.9,640.1 1077.2,639.9 1078.6,639.8 1079.9,639.7 1081.2,639.7 1082.5,639.6 1083.7,639.7 1085.0,639.7 1086.2,639.8 1087.5,639.9 1088.7,640.0 1090.0,640.2 1091.2,640.4 1092.5,640.6 1093.8,640.9 1095.0,641.1 1096.3,641.4 1097.5,641.7 1098.7,642.1 1100.0,642.4 1101.1,642.8 1102.3,643.2 1103.4,643.6 1104.5,644.0 1105.6,644.5 1106.7,645.0 1107.9,645.6 1109.0,646.2 1110.1,646.8 1111.3,647.5 1112.4,648.2 1113.5,648.9 1114.5,649.6 1115.5,650.3 1116.5,650.9 1117.3,651.6 1118.2,652.1 1118.9,652.6 1119.6,653.1 1120.1,653.5 1121.9,650.5 1121.3,650.2 1120.7,649.9 1119.9,649.4 1119.1,648.9 1118.2,648.3 1117.2,647.7 1116.1,647.0 1115.0,646.4 1113.9,645.7 1112.7,645.0 1111.5,644.4 1110.3,643.7 1109.1,643.1 1107.9,642.5 1106.7,642.0 1105.5,641.6 1104.3,641.2 1103.1,640.8 1101.9,640.5 1100.6,640.1 1099.3,639.8 1098.1,639.5 1096.8,639.2 1095.5,639.0 1094.2,638.8 1092.8,638.6 1091.5,638.4 1090.2,638.2 1088.9,638.1 1087.6,638.0 1086.3,637.9 1085.0,637.9 1083.7,637.9 1082.4,637.9 1081.1,638.0 1079.8,638.1 1078.4,638.2 1077.1,638.4 1075.7,638.5 1074.4,638.7 1073.1,638.9 1071.8,639.2 1070.5,639.4 1069.3,639.7 1068.1,640.0 1067.0,640.2 1065.9,640.5 1064.8,640.8 1063.8,641.1 1062.8,641.5 1061.9,641.9 1060.9,642.3 1060.0,642.8 1059.1,643.2 1058.3,643.7 1057.5,644.2 1056.7,644.6 1056.0,645.1 1055.3,645.5 1054.7,645.9 1054.1,646.3 1053.6,646.6 1053.2,646.9 1052.8,647.1" fill="#000"/>
<path d="M1019.4,382.9 C1016,374 1015.5,366 1018.2,362.3 C1026,350 1042,339 1057.1,333.9 L1055.2,326.2 L1071.1,336.3 L1062.4,353 L1061.4,346.4 C1047,354 1030,366 1019.4,382.9 Z" fill="#1a1718"/>
<path d="M819,448.3 C816,440 815.5,433 819,428.9 C827,417 842,407 856.3,401.7 L855.2,394.3 L870.9,404.4 L862.4,420.7 L861.4,414.1 C847,421 830,433 819,448.3 Z" fill="#1a1718"/>
<path d="M767.4,524.2 C764,515 764,508 769,502.4 C777,491 791,482 805.2,476.8 L803.6,469.4 L818.9,479.7 L810.6,496.2 L809.4,490 C795,497 778,509 767.4,524.2 Z" fill="#1a1718"/>
<text x="1077" y="193" font-size="16.2" font-weight="normal" text-anchor="middle" fill="#1a1a1a" >1</text>
<text x="1017.1" y="344.4" font-size="16" font-weight="normal" text-anchor="middle" fill="#1a1a1a" >2</text>
<text x="826" y="398" font-size="16" font-weight="normal" text-anchor="middle" fill="#1a1a1a" >3</text>
<text x="776.6" y="474.8" font-size="16" font-weight="normal" text-anchor="middle" fill="#1a1a1a" >4</text>
<path d="M1039.4,197.4 A56,64.4 0 1 1 961.5,137.9 M991.25,132.9 A56,64.4 0 0 1 1038.7,186.3 L1091,209.6 L1039.4,197.4" fill="#fff" stroke="#111" stroke-width="1.4" stroke-linejoin="round"/>
<polyline points="960.5,157 1005,165 1005,246.2" fill="none" stroke="#222" stroke-width="0.9" stroke-linejoin="round" />
<polyline points="971.25,155 1015,163.7 1015,241.2" fill="none" stroke="#222" stroke-width="0.9" stroke-linejoin="round" />
<polyline points="1005,165 1015,163.7 1025,162" fill="none" stroke="#222" stroke-width="0.8" stroke-linejoin="round" />
<line x1="962.6" y1="200.9" x2="985" y2="192.3" stroke="#222" stroke-width="5" />
<line x1="963.4" y1="201" x2="984.6" y2="192.9" stroke="#8a8a8a" stroke-width="3.6" />
<line x1="958.5" y1="202.6" x2="964" y2="200.4" stroke="#222" stroke-width="4.4" />
<line x1="959" y1="202.5" x2="963.8" y2="200.6" stroke="#fff" stroke-width="3" />
<ellipse cx="957" cy="203.8" rx="3.3" ry="6.8" fill="#fff" stroke="#222" stroke-width="1" transform="rotate(10 957 203.8)" />
<ellipse cx="956.8" cy="204" rx="1.3" ry="2.8" fill="none" stroke="#444" stroke-width="0.6" transform="rotate(10 956.8 204)" />
<line x1="985.4" y1="192.2" x2="990" y2="191.2" stroke="#555" stroke-width="0.6" />
<ellipse cx="997.2" cy="189.1" rx="2.5" ry="3.7" fill="#fff" stroke="#222" stroke-width="0.8" transform="rotate(-8 997.2 189.1)" />
<line x1="994.4" y1="189.6" x2="997.4" y2="189" stroke="#666" stroke-width="0.5" />
<path d="M966.6,183.2 C964.2,188 965.4,195.4 967.8,199" fill="none" stroke="#111" stroke-width="2.2" stroke-linecap="round"/>
<path d="M968.8,202.4 C969.6,205.6 971.6,208.8 973.9,210.2" fill="none" stroke="#111" stroke-width="2.2" stroke-linecap="round"/>
<path d="M966.6,183 C968,181.4 970,182.2 971.4,184.4 L974,189 L975.4,187.6 L974,192.8 L969.8,190.6 L971.8,190.2 L969.6,186.2 C968.8,185 967.8,184.6 967,185.2" fill="#fff" stroke="#111" stroke-width="0.7" />
<path d="M973.6,210.6 C976.2,210.4 977.8,207.8 977.6,205 L976,205.4 C976.2,207.2 975.2,208.6 973.6,208.6" fill="#fff" stroke="#111" stroke-width="0.7" />
<line x1="934.5" y1="263.8" x2="950.6" y2="218.6" stroke="#222" stroke-width="0.7" />
<polygon points="952.5,213.8 953.0,224.6 945.1,221.8" fill="#111"/>
<text x="972.4" y="135.4" font-size="17" font-weight="bold" text-anchor="middle" fill="#1a1718" transform="translate(972.4 0) scale(1.1 1) translate(-972.4 0)" stroke="#1a1718" stroke-width="0.5">4x</text>
<text x="916.15" y="269.4" font-size="18.6" font-weight="bold" text-anchor="middle" fill="#1a1a1a"  textLength="27.28" lengthAdjust="spacingAndGlyphs">Ф7</text>
<text x="916.8" y="288.3" font-size="17" font-weight="normal" text-anchor="middle" fill="#1a1a1a"  textLength="29.04" lengthAdjust="spacingAndGlyphs">(2x)</text>
<ellipse cx="1068.5" cy="560.8" rx="55.3" ry="57.3" fill="#fff" stroke="#111" stroke-width="1.2" />
<path d="M1064.4,506.3 L1064.4,535 C1064.6,539.5 1067,542.6 1069.4,543.8 C1071.8,542.6 1074.3,539.5 1074.5,535 L1074.5,506.3" fill="#fff" stroke="#111" stroke-width="1.2" />
<rect x="1068.8" y="507" width="4.2" height="24" fill="#e4e4e4"/>
<path d="M1066.2,539.5 L1069.4,529 L1072.8,539.5 L1069.4,543.4 Z" fill="#444" stroke="#111" stroke-width="0.6" />
<line x1="1069.4" y1="531" x2="1069.4" y2="543" stroke="#ddd" stroke-width="0.6" />
<path d="M1081.6,511.4 C1089,512.4 1092.4,515 1092.4,518.1 C1092.4,522.3 1082,525.6 1069.4,525.6 C1056.6,525.6 1046.4,522.3 1046.4,518.1 C1046.4,514.6 1051,512 1057.6,511" fill="none" stroke="#e2503c" stroke-width="2.6" />
<polygon points="1054.6,508.4 1061.6,510 1056.4,515.6" fill="#e2503c"/>
<line x1="1069.4" y1="544.4" x2="1069.4" y2="566" stroke="#eba79c" stroke-width="0.9" />
<rect x="1065.4" y="572" width="6.6" height="19.4" rx="1.6" fill="#111"/>
<line x1="1064.6" y1="575.7" x2="1072.8" y2="574.3" stroke="#111" stroke-width="1.5" />
<line x1="1064.6" y1="578.7" x2="1072.8" y2="577.3" stroke="#111" stroke-width="1.5" />
<line x1="1064.6" y1="581.7" x2="1072.8" y2="580.3" stroke="#111" stroke-width="1.5" />
<line x1="1064.6" y1="584.7" x2="1072.8" y2="583.3" stroke="#111" stroke-width="1.5" />
<line x1="1064.6" y1="587.7" x2="1072.8" y2="586.3" stroke="#111" stroke-width="1.5" />
<line x1="1064.6" y1="590.7" x2="1072.8" y2="589.3" stroke="#111" stroke-width="1.5" />
<ellipse cx="1068.6" cy="569.1" rx="6.6" ry="3.2" fill="#fff" stroke="#111" stroke-width="1.8" />
<path d="M1065.6,568 L1071.8,570.2 M1072,568 L1065.4,570.4" fill="none" stroke="#111" stroke-width="1.2" />
<path d="M1064.6,571.6 L1066.4,574 L1071,574 L1072.8,571.6" fill="#111" stroke="#111" stroke-width="1" />
<line x1="1130" y1="543" x2="1088.6" y2="560.7" stroke="#333" stroke-width="0.7" />
<polygon points="1082.2,563.4 1087.4,555.5 1088.8,563.9" fill="#111"/>
<text x="1143.1999999999998" y="540.5" font-size="18.6" font-weight="bold" text-anchor="middle" fill="#1a1a1a"  textLength="27.38" lengthAdjust="spacingAndGlyphs">Ф5</text>
<text x="1143.8" y="559.6" font-size="17" font-weight="normal" text-anchor="middle" fill="#1a1a1a"  textLength="29.04" lengthAdjust="spacingAndGlyphs">(4x)</text>
<clipPath id="c6"><ellipse cx="1009.4" cy="674.25" rx="48.3" ry="56"/></clipPath>
<ellipse cx="1009.4" cy="674.25" rx="48.6" ry="56.25" fill="#fff" stroke="none" stroke-width="0" />
<g clip-path="url(#c6)">
<rect x="1009.4" y="610" width="60" height="130" fill="#e7e7e7"/>
<line x1="1002.4" y1="610" x2="1002.4" y2="740" stroke="#9a9a9a" stroke-width="1" />
<line x1="1009.4" y1="610" x2="1009.4" y2="740" stroke="#a8a8a8" stroke-width="0.9" />
</g>
<ellipse cx="1009.4" cy="674.25" rx="48.6" ry="56.25" fill="none" stroke="#111" stroke-width="1.1" />
<g stroke="#111" stroke-width="1.3" fill="#fff" stroke-linejoin="round"><ellipse cx="983.4" cy="669.7" rx="5.2" ry="15.6" transform="rotate(14 983.4 669.7)"/><path d="M987.4,655 C984,660 980.8,674 981.6,684.6" fill="none" stroke-width="0.9"/><path d="M985.4,662.4 L989.6,662.6 C991.6,663 992.4,664.6 992.2,666.4 L990.4,674.4 C989.8,676.4 988.4,677.2 986.6,676.8 L983,675.8 Z"/><path d="M989.6,662.8 L988,675.8" fill="none" stroke-width="0.8"/></g>
<line x1="992" y1="668.5" x2="1002.4" y2="671.6" stroke="#e59a90" stroke-width="0.8" />
<ellipse cx="1024.5" cy="678.8" rx="1.5" ry="1.5" fill="none" stroke="#e59a90" stroke-width="0.6" />
<line x1="1026" y1="679.4" x2="1030.4" y2="680.8" stroke="#e59a90" stroke-width="0.6" />
<line x1="1030.6" y1="680.7" x2="1053" y2="688.1" stroke="#2e2e2e" stroke-width="3.1" stroke-linecap="round"/>
<ellipse cx="1053.6" cy="688.3" rx="1.5" ry="3.8" fill="#444" stroke="#222" stroke-width="0.8" transform="rotate(-18 1053.6 688.3)" />
<line x1="958.75" y1="733.75" x2="981" y2="699.6" stroke="#333" stroke-width="0.7" />
<polygon points="988.5,688 978.4,695.9 988.1,700.9" fill="#111"/>
<line x1="1050" y1="745" x2="1031.9" y2="704" stroke="#333" stroke-width="0.7" />
<polygon points="1028.75,693.1 1026.8,705.2 1037.3,702.5" fill="#111"/>
<text x="960.4" y="640.2" font-size="17" font-weight="bold" text-anchor="middle" fill="#1a1718" transform="translate(960.4 0) scale(1.1 1) translate(-960.4 0)" stroke="#1a1718" stroke-width="0.5">6x</text>
<text x="949.75" y="747.2" font-size="18.6" font-weight="bold" text-anchor="middle" fill="#1a1a1a"  textLength="36.88" lengthAdjust="spacingAndGlyphs">Ф11</text>
<text x="949.5999999999999" y="766" font-size="17" font-weight="normal" text-anchor="middle" fill="#1a1a1a"  textLength="29.44" lengthAdjust="spacingAndGlyphs">(1x)</text>
<text x="1041.1" y="759.8" font-size="18.6" font-weight="bold" text-anchor="middle" fill="#1a1a1a"  textLength="37.98" lengthAdjust="spacingAndGlyphs">Ф10</text>
<text x="1036.3" y="778.5" font-size="17" font-weight="normal" text-anchor="middle" fill="#1a1a1a"  textLength="28.84" lengthAdjust="spacingAndGlyphs">(1x)</text>
<ellipse cx="1133.5" cy="702.25" rx="54.75" ry="52.25" fill="#fff" stroke="#777" stroke-width="0.7" />
<g transform="rotate(16.5 1108.5 674.4)"><path d="M1111,671.6 L1150,671.4 L1158,672.2 L1161,674.4 L1158,676.8 L1150,677.6 L1111,677.2 Z" fill="#4a4a4a" stroke="#2a2a2a" stroke-width="0.8"/><path d="M1134,671.2 L1134,677.6 M1137,671.2 L1137,677.6 M1140,671.2 L1140,677.6 M1143,671.2 L1143,677.6 M1146,671.2 L1146,677.6 M1149,671.2 L1149,677.6 M1152,671.4 L1152,677.4 M1155,671.8 L1155,677" stroke="#222" stroke-width="1"/><path d="M1111,671.6 L1109,668 L1109,681 L1111,677.2 Z" fill="#555" stroke="#222" stroke-width="0.6"/><ellipse cx="1108.5" cy="674.4" rx="3.2" ry="7" fill="#fff" stroke="#222" stroke-width="1.1"/><path d="M1107.4,671 L1109.6,677.8 M1106.6,675.6 L1110.4,673.2" stroke="#222" stroke-width="1.1"/></g>
<line x1="1140.9" y1="670.9" x2="1153.8" y2="702.8" stroke="#555" stroke-width="0.7" />
<line x1="1158.8" y1="675.4" x2="1133.9" y2="697.8" stroke="#555" stroke-width="0.7" />
<path d="M1124.2,712.9 L1133,700.6 C1136,697 1140,694.6 1143.6,694.6 C1146.4,694.8 1147.6,697 1147,699.4 L1136,718.6 M1127.2,714 L1134.6,703.4 L1141.4,697.6 M1131.2,716.6 L1136,708.2 L1144.6,698 M1144.6,698 L1140,704.6" fill="none" stroke="#333" stroke-width="0.6" />
<ellipse cx="1137.4" cy="708.6" rx="2.3" ry="1.6" fill="none" stroke="#333" stroke-width="0.6" transform="rotate(-40 1137.4 708.6)" />
<text x="1134.2" y="737.2" font-size="18.4" font-weight="bold" text-anchor="middle" fill="#1a1a1a"  textLength="32.56" lengthAdjust="spacingAndGlyphs">Ф10</text>
</svg>
</body></html>
